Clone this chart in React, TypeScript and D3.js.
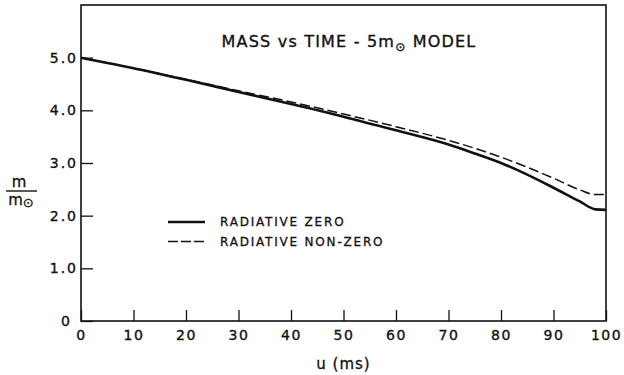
import React, { useEffect, useRef } from "react";
import * as d3 from "d3";

// time u (ms)
const timeMs = [0, 10, 20, 30, 40, 50, 60, 70, 75, 80, 85, 90, 95, 98, 100];
// m / m_sun, radiative zero (solid)
const massZero = [5.0, 4.8, 4.58, 4.35, 4.12, 3.88, 3.62, 3.35, 3.18, 3.0, 2.78, 2.53, 2.27, 2.12, 2.11];
// m / m_sun, radiative non-zero (dashed)
const massNonZero = [5.0, 4.8, 4.59, 4.37, 4.16, 3.93, 3.69, 3.43, 3.28, 3.11, 2.92, 2.71, 2.49, 2.4, 2.4];

const xTicks = [0, 10, 20, 30, 40, 50, 60, 70, 80, 90, 100];
const yTicks = [0, 1, 2, 3, 4, 5];
const legendLabels = ["RADIATIVE ZERO", "RADIATIVE NON-ZERO"];

const FONT = "'DejaVu Sans', sans-serif";

function MassChart() {
  const ref = useRef<SVGSVGElement | null>(null);

  useEffect(() => {
    const svg = d3.select(ref.current);
    svg.selectAll("*").remove();

    const left = 81, right = 606, top = 5, bottom = 321;

    const x = d3.scaleLinear().domain([0, 100]).range([left, right]);
    const y = d3.scaleLinear().domain([0, 6]).range([bottom, top]);

    // frame
    svg
      .append("rect")
      .attr("x", left)
      .attr("y", top)
      .attr("width", right - left)
      .attr("height", bottom - top)
      .attr("fill", "none")
      .attr("stroke", "#111")
      .attr("stroke-width", 1.6);

    // x axis, ticks point inward
    const gx = svg
      .append("g")
      .attr("transform", `translate(0,${bottom})`)
      .call(
        d3
          .axisBottom(x)
          .tickValues(xTicks)
          .tickSizeInner(-11)
          .tickSizeOuter(0)
          .tickPadding(9)
          .tickFormat((d) => String(d))
      );
    gx.select(".domain").remove();
    gx.selectAll(".tick line").attr("stroke", "#111").attr("stroke-width", 1.3);
    gx.selectAll("text")
      .attr("fill", "#111")
      .attr("stroke", "#111")
      .attr("stroke-width", 0.35)
      .style("font-family", FONT)
      .style("font-size", "14px")
      .style("letter-spacing", "1.5px");

    // y axis
    const gy = svg
      .append("g")
      .attr("transform", `translate(${left},0)`)
      .call(
        d3
          .axisLeft(y)
          .tickValues(yTicks)
          .tickSizeInner(-12)
          .tickSizeOuter(0)
          .tickPadding(3)
          .tickFormat((d) => (+d === 0 ? "0" : d3.format(".1f")(+d)))
      );
    gy.select(".domain").remove();
    gy.selectAll(".tick line").attr("stroke", "#111").attr("stroke-width", 1.3);
    gy.selectAll("text")
      .attr("fill", "#111")
      .attr("stroke", "#111")
      .attr("stroke-width", 0.35)
      .style("font-family", FONT)
      .style("font-size", "14px")
      .style("letter-spacing", "2px")
      .attr("dx", (d) => (+d === 0 ? -6 : 0));

    // curves
    const line = d3
      .line<number>()
      .x((_, i) => x(timeMs[i]))
      .y((d) => y(d))
      .curve(d3.curveMonotoneX);

    svg
      .append("path")
      .attr("d", line(massNonZero))
      .attr("fill", "none")
      .attr("stroke", "#111")
      .attr("stroke-width", 1.5)
      .attr("stroke-dasharray", "10,4");

    svg
      .append("path")
      .attr("d", line(massZero))
      .attr("fill", "none")
      .attr("stroke", "#111")
      .attr("stroke-width", 2.6);

    // title
    const title = svg
      .append("text")
      .attr("x", 349)
      .attr("y", 47)
      .attr("text-anchor", "middle")
      .attr("fill", "#111")
      .attr("stroke", "#111")
      .attr("stroke-width", 0.35)
      .style("font-family", FONT)
      .style("font-size", "16px")
      .style("letter-spacing", "1.2px");
    title.append("tspan").text("MASS vs TIME - 5m");
    title.append("tspan").attr("dy", 4).style("font-size", "12px").text("⊙");
    title.append("tspan").attr("dy", -4).text(" MODEL");

    // x label
    svg
      .append("text")
      .attr("x", (left + right) / 2)
      .attr("y", 369)
      .attr("text-anchor", "middle")
      .attr("fill", "#111")
      .attr("stroke", "#111")
      .attr("stroke-width", 0.3)
      .style("font-family", FONT)
      .style("font-size", "15px")
      .style("letter-spacing", "1px")
      .text("u (ms)");

    // y label: m / m_sun
    const yl = svg
      .append("g")
      .attr("fill", "#111")
      .attr("stroke", "#111")
      .attr("stroke-width", 0.3)
      .style("font-family", FONT);
    yl.append("text")
      .attr("x", 19)
      .attr("y", 187)
      .attr("text-anchor", "middle")
      .style("font-size", "15px")
      .text("m");
    yl.append("line")
      .attr("x1", 6)
      .attr("x2", 37)
      .attr("y1", 191)
      .attr("y2", 191)
      .attr("stroke-width", 1.4);
    const den = yl
      .append("text")
      .attr("x", 21)
      .attr("y", 205)
      .attr("text-anchor", "middle")
      .style("font-size", "15px");
    den.append("tspan").text("m");
    den.append("tspan").attr("dy", 2).style("font-size", "13px").text("⊙");

    // legend
    const legend = svg.append("g");
    legendLabels.forEach((label, i) => {
      const ly = 222 + i * 19.5;
      legend
        .append("line")
        .attr("x1", 168)
        .attr("x2", 205)
        .attr("y1", ly)
        .attr("y2", ly)
        .attr("stroke", "#111")
        .attr("stroke-width", i === 0 ? 2.6 : 1.5)
        .attr("stroke-dasharray", i === 0 ? null : "10,3");
      legend
        .append("text")
        .attr("x", 220)
        .attr("y", ly)
        .attr("dy", "0.35em")
        .attr("fill", "#111")
        .attr("stroke", "#111")
        .attr("stroke-width", 0.3)
        .style("font-family", FONT)
        .style("font-size", "12px")
        .style("letter-spacing", "1.8px")
        .text(label);
    });
  }, []);

  return (
    <svg
      ref={ref}
      width={624}
      height={375}
      style={{ position: "absolute", left: 0, top: 0, background: "#fff" }}
    />
  );
}

export default function App() {
  return <MassChart />;
}
